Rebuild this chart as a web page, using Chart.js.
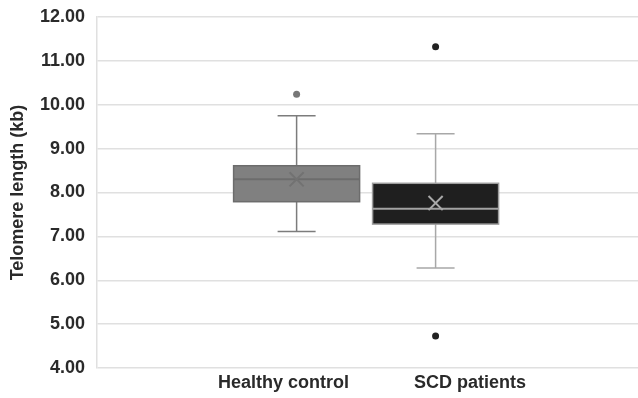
<!DOCTYPE html>
<html><head><meta charset="utf-8">
<script src="https://cdn.jsdelivr.net/npm/chart.js@4"></script>
<style>html,body{margin:0;padding:0;background:#fff;overflow:hidden;width:638px;height:398px}canvas{display:block}</style>
</head><body><canvas id="c" width="650" height="398" style="width:650px;height:398px"></canvas>
<script>
const categories = ['Healthy control', 'SCD patients'];
const whiskerMin = [7.11, 6.28];
const q1 = [7.79, 7.28];
const median = [8.30, 7.63];
const q3 = [8.61, 8.21];
const whiskerMax = [9.75, 9.34];
const mean = [8.30, 7.76];
const outliers = [[10.24], [11.32, 4.73]];
const yTicks = [4, 5, 6, 7, 8, 9, 10, 11, 12];

const boxStyle = [
  {fill:'#808080', border:'#6c6c6c', whisker:'#7c7c7c', med:'#6c6c6c', meanC:'#727272', out:'#777777'},
  {fill:'#1f1f1f', border:'#9c9c9c', whisker:'#a8a8a8', med:'#a2a2a2', meanC:'#a9a9a9', out:'#222222'}
];
const boxOffset = [0.07, -0.185];
const BOX_W = 126, CAP_W = 38;
const FONT = {family:'"Liberation Sans", Arial, sans-serif', size:18, weight:'bold'};
const TXT = '#2a2a2a';

const boxPlugin = {
  id:'boxes',
  beforeDatasetsDraw(chart){
    const {ctx, scales:{x, y}} = chart;
    ctx.save();
    categories.forEach((c, i) => {
      const s = boxStyle[i];
      const cx = x.getPixelForValue(i + 1 + boxOffset[i]);
      const yq1 = y.getPixelForValue(q1[i]), yq3 = y.getPixelForValue(q3[i]);
      const ymin = y.getPixelForValue(whiskerMin[i]), ymax = y.getPixelForValue(whiskerMax[i]);
      const ymed = y.getPixelForValue(median[i]);
      ctx.lineWidth = 1.5;
      ctx.strokeStyle = s.whisker;
      ctx.beginPath();
      ctx.moveTo(cx, yq3); ctx.lineTo(cx, ymax);
      ctx.moveTo(cx - CAP_W/2, ymax); ctx.lineTo(cx + CAP_W/2, ymax);
      ctx.moveTo(cx, yq1); ctx.lineTo(cx, ymin);
      ctx.moveTo(cx - CAP_W/2, ymin); ctx.lineTo(cx + CAP_W/2, ymin);
      ctx.stroke();
      ctx.fillStyle = s.fill;
      ctx.fillRect(cx - BOX_W/2, yq3, BOX_W, yq1 - yq3);
      ctx.strokeStyle = s.border;
      ctx.strokeRect(cx - BOX_W/2, yq3, BOX_W, yq1 - yq3);
      ctx.strokeStyle = s.med;
      ctx.lineWidth = 2;
      ctx.beginPath();
      ctx.moveTo(cx - BOX_W/2, ymed); ctx.lineTo(cx + BOX_W/2, ymed);
      ctx.stroke();
    });
    ctx.restore();
  }
};

const datasets = [];
categories.forEach((c, i) => {
  datasets.push({
    label: c + ' mean',
    data: [{x: i + 1 + boxOffset[i], y: mean[i]}],
    pointStyle: 'crossRot', radius: 10, borderWidth: 2,
    borderColor: boxStyle[i].meanC, backgroundColor: boxStyle[i].meanC
  });
  datasets.push({
    label: c + ' outliers',
    data: outliers[i].map(v => ({x: i + 1 + boxOffset[i], y: v})),
    pointStyle: 'circle', radius: 3.5, borderWidth: 0,
    backgroundColor: boxStyle[i].out, borderColor: boxStyle[i].out
  });
});

new Chart(document.getElementById('c'), {
  type: 'scatter',
  data: {datasets},
  plugins: [boxPlugin],
  options: {
    responsive: false, animation: false, devicePixelRatio: 1,
    layout: {padding: {top: 17, right: 1, left: 0, bottom: 0}},
    plugins: {legend: {display: false}, tooltip: {enabled: false}},
    scales: {
      x: {
        type: 'linear', min: 0, max: 2.9,
        afterBuildTicks: s => { s.ticks = categories.map((c, i) => ({value: i + 1})); },
        afterFit: s => { s.height = 30; s.paddingLeft = 0; s.paddingRight = 0; },
        grid: {display: false, drawTicks: false},
        border: {display: false},
        ticks: {padding: 4, color: TXT, font: FONT, autoSkip: false, maxRotation: 0,
          callback: v => categories[Math.round(v) - 1]}
      },
      y: {
        min: 4, max: 12,
        afterBuildTicks: s => { s.ticks = yTicks.map(v => ({value: v})); },
        afterFit: s => { s.width = 97; s.paddingTop = 0; s.paddingBottom = 0; },
        grid: {color: '#e0e0e0', lineWidth: 1.5, drawTicks: false},
        border: {color: '#e0e0e0', width: 1.5},
        ticks: {padding: 12, color: TXT, font: FONT, callback: v => v.toFixed(2)},
        title: {display: true, text: 'Telomere length (kb)', color: TXT, font: FONT, padding: {top: 7, bottom: 0}}
      }
    }
  }
});
</script>
</body></html>
